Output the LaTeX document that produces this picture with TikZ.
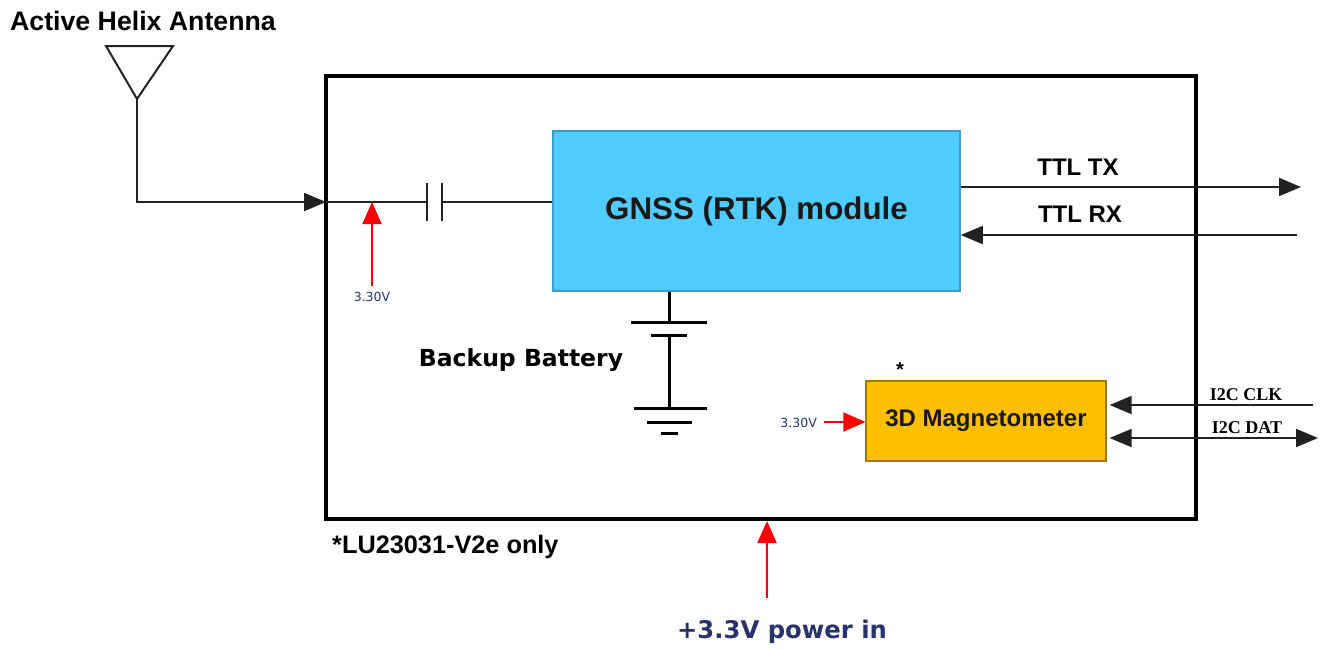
\documentclass[tikz,border=0pt]{standalone}
\usepackage{fontspec}
\setmainfont{Liberation Sans}
\newfontfamily\dejavu{DejaVu Sans}
\newfontfamily\tms{Liberation Serif}
\usetikzlibrary{arrows.meta,calc}
\definecolor{gnssblue}{HTML}{50CBFF}
\definecolor{gnssedge}{HTML}{3A9CCB}
\definecolor{magfill}{HTML}{FDC000}
\definecolor{magedge}{HTML}{9C7A10}
\definecolor{navy}{HTML}{27336E}
\definecolor{wire}{HTML}{222222}
\tikzset{
  wireline/.style={draw=wire, line width=2},
  arr/.style={wireline, -{Triangle[length=22, width=18]}},
  darr/.style={wireline, {Triangle[length=22, width=18]}-{Triangle[length=22, width=18]}},
  redarr/.style={draw=red, line width=2, -{Triangle[length=22, width=19]}},
  heavy/.style={draw=black, line width=3},
  lbl/.style={inner sep=0, font=\bfseries\fontsize{24}{28}\selectfont},
  dvlbl/.style={inner sep=0, font=\dejavu\bfseries\fontsize{23.5}{28}\selectfont},
  vlbl/.style={inner sep=0, text=navy, font=\dejavu\fontsize{12.5}{15}\selectfont},
  i2c/.style={inner sep=0, font=\tms\bfseries\fontsize{18}{20}\selectfont},
}
\begin{document}
\begin{tikzpicture}[x=1pt, y=-1pt]
\useasboundingbox (0,0) rectangle (1324,649);
% outer board
\node[draw=black, line width=3.5, minimum width=870, minimum height=443, inner sep=0] (board) at (761,297.5) {};
% antenna
\node[lbl, font=\bfseries\fontsize{26.7}{30}\selectfont, anchor=west] (antlbl) at (10,21) {Active Helix Antenna};
\coordinate (ant) at (137,99);
\draw[wireline] (106,46) -- (173,46) -- (ant) -- cycle;
\coordinate (rfin) at (326,202);
\draw[arr] (ant) |- (rfin);
% GNSS module
\node[draw=gnssedge, fill=gnssblue, line width=1.5, minimum width=407, minimum height=160, inner sep=0,
      font=\bfseries\fontsize{31.3}{36}\selectfont, text=black!90] (gnss) at (756.5,211) {GNSS (RTK) module};
% capacitor
\coordinate (c1) at (427,202);
\coordinate (c2) at (442,202);
\draw[wireline] (rfin) -- (c1);
\draw[wireline] ($(c1)+(0,-19)$) -- ($(c1)+(0,19)$);
\draw[wireline] ($(c2)+(0,-19)$) -- ($(c2)+(0,19)$);
\draw[wireline] (c2) -- (gnss.west |- c2);
% 3.30V on RF line
\node[vlbl] (v1) at (372,297) {3.30V};
\draw[redarr] ($(v1.north)+(0,-6)$) -- (v1.north |- rfin);
% TTL lines
\coordinate (txend) at (1301,187);
\coordinate (rxstart) at (1297,235);
\draw[arr] (gnss.east |- txend) -- (txend);
\draw[arr] (rxstart) -- (gnss.east |- rxstart);
\node[lbl] (txl) at (1078,167) {TTL TX};
\node[lbl] (rxl) at (1080,214) {TTL RX};
% backup battery
\coordinate (bt) at (669,322);
\coordinate (bb) at (669,335);
\coordinate (gnd) at (669,408);
\draw[heavy] (gnss.south -| bt) -- (bt);
\draw[heavy] ($(bt)+(-38,0)$) -- ($(bt)+(38,0)$);
\draw[heavy] ($(bb)+(-18,0)$) -- ($(bb)+(18,0)$);
\draw[heavy] (bb) -- (gnd);
\draw[heavy] ($(gnd)+(-35,0)$) -- ($(gnd)+(38,0)$);
\draw[heavy] ($(gnd)+(-22,14)$) -- ($(gnd)+(23,14)$);
\draw[heavy] ($(gnd)+(-8,25)$) -- ($(gnd)+(9,25)$);
\node[dvlbl] (batlbl) at (521,360) {Backup Battery};
% magnetometer
\node[draw=magedge, fill=magfill, line width=1.2, minimum width=240, minimum height=80, inner sep=0,
      font=\bfseries\fontsize{24}{28}\selectfont, text=black!90] (mag) at (986,421) {3D Magnetometer};
\node[inner sep=0, font=\bfseries\fontsize{20}{22}\selectfont] (star) at (900,370) {*};
\node[vlbl, anchor=east] (v2) at (817,423) {3.30V};
\draw[redarr] ($(v2.east)+(7,-1)$) -- (mag.west |- 0,422);
% I2C
\coordinate (clkend) at (1313,405);
\coordinate (datend) at (1318,438);
\draw[arr] (clkend) -- ($(mag.east |- clkend)+(3,0)$);
\draw[darr] ($(mag.east |- datend)+(3,0)$) -- (datend);
\node[i2c] (clkl) at (1246,395) {I2C CLK};
\node[i2c] (datl) at (1247,428) {I2C DAT};
% footnote
\node[lbl, font=\bfseries\fontsize{25.3}{28}\selectfont, anchor=west] (note) at (332,547) {*LU23031-V2e only};
% power in
\coordinate (pwtail) at (767,598);
\coordinate (pwtip) at (767,521);
\draw[redarr] (pwtail) -- (pwtip);
\node[dvlbl, text=navy, font=\dejavu\bfseries\fontsize{24.3}{28}\selectfont] (pw) at (782,632) {+3.3V power in};
\end{tikzpicture}
\end{document}
